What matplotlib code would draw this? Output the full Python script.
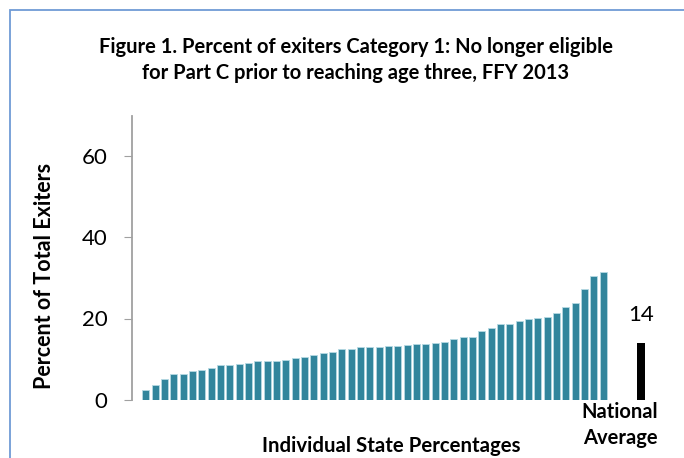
import matplotlib.pyplot as plt
from matplotlib.patches import Rectangle

plt.rcParams['font.family'] = ['Lato', 'DejaVu Sans']

# state percentages, sorted low to high
state_pct = [2.3, 3.7, 5.1, 6.2, 6.2, 7.0, 7.3, 7.8, 8.4, 8.5,
             8.8, 9.0, 9.5, 9.6, 9.6, 9.75, 10.2, 10.5, 10.9, 11.4,
             11.65, 12.4, 12.5, 12.9, 12.9, 13.0, 13.1, 13.1, 13.5, 13.6,
             13.6, 14.0, 14.2, 14.9, 15.5, 15.5, 16.8, 17.6, 18.7, 18.7,
             19.4, 19.95, 20.2, 20.3, 21.4, 22.8, 23.9, 27.4, 30.5, 31.6]
national_avg = 14
y_ticks = [0, 20, 40, 60]

W, H = 684, 458
fig = plt.figure(figsize=(W / 100, H / 100), dpi=100)

# blue frame round the chart
fig.patches.append(Rectangle((10 / W, -0.1), 1.2, 1 - 10 / H + 0.1,
                             transform=fig.transFigure, fill=False,
                             edgecolor='#6f9bd6', linewidth=1.3))

ax = fig.add_axes([132.3 / W, 1 - 399.5 / H, (660 - 132.3) / W, (399.5 - 116) / H])

x = list(range(len(state_pct)))
ax.bar(x, state_pct, width=0.75, color='#31859c', edgecolor='#b5d9e3', linewidth=0.6)

nat_x = len(state_pct) + 3.05
ax.bar([nat_x], [national_avg], width=0.85, color='black')
ax.text(nat_x, national_avg + 4.3, str(national_avg), ha='center', va='bottom', fontsize=16)

ax.set_xlim(-1.45, 55.1)
ax.set_ylim(0, 70)
ax.set_yticks(y_ticks)
ax.tick_params(axis='y', labelsize=16, length=6, color='#a0a0a0', pad=12)
ax.set_xticks([])
for s in ['top', 'right', 'bottom']:
    ax.spines[s].set_visible(False)
ax.spines['left'].set_color('#a0a0a0')
ax.spines['left'].set_linewidth(1.3)

fig.text(356 / W, 1 - 47 / H, 'Figure 1. Percent of exiters Category 1: No longer eligible',
         ha='center', va='center', fontsize=14.5, fontweight='bold')
fig.text(356 / W, 1 - 73 / H, 'for Part C prior to reaching age three, FFY 2013',
         ha='center', va='center', fontsize=14.5, fontweight='bold')
fig.text(45 / W, 1 - 276 / H, 'Percent of Total Exiters', rotation=90,
         ha='center', va='center', fontsize=15.5, fontweight='bold')
fig.text(391 / W, 1 - 446 / H, 'Individual State Percentages',
         ha='center', va='center', fontsize=14.7, fontweight='bold')
fig.text(620 / W, 1 - 412 / H, 'National', ha='center', va='center', fontsize=14.5, fontweight='bold')
fig.text(620 / W, 1 - 438 / H, 'Average', ha='center', va='center', fontsize=14.5, fontweight='bold')

fig.savefig('out.png', dpi=100)
